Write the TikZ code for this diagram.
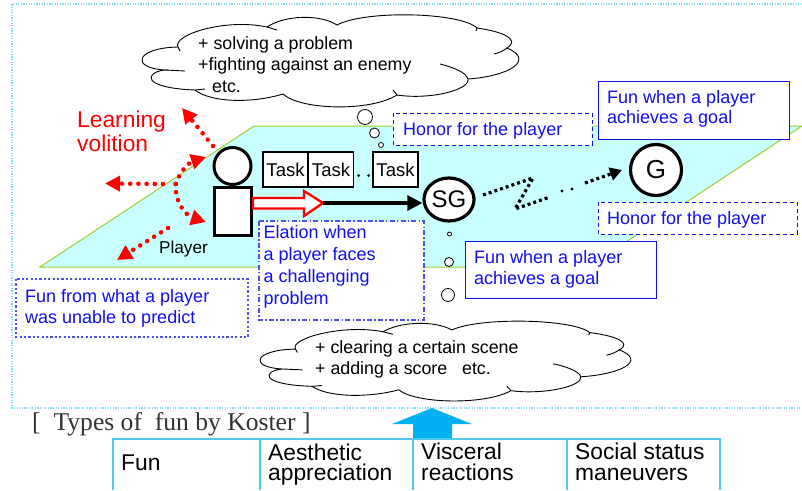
\documentclass[tikz,border=0pt]{standalone}
\usepackage{fontspec}
\setmainfont{Liberation Sans}
\newfontfamily\typesfont{Liberation Serif}
\usetikzlibrary{arrows.meta,shapes.geometric}
\definecolor{planefill}{HTML}{C8FFFF}
\definecolor{planeline}{HTML}{A0D030}
\definecolor{framecol}{HTML}{80DCF0}
\definecolor{boxblue}{HTML}{1010F0}
\definecolor{dashblue}{HTML}{5050F0}
\definecolor{tablecol}{HTML}{50C8F0}
\definecolor{bigarrow}{HTML}{00B0F0}
\newcommand{\fs}[1]{\fontsize{#1}{#1}\selectfont}
\newcommand{\cloudoutline}{%
  \draw[fill=white,line width=.9pt] (178,47)
    .. controls (172,35) and (225,18) .. (267,27)
    .. controls (285,15) and (320,14) .. (337,25)
    .. controls (365,10) and (460,12) .. (477,28)
    .. controls (505,32) and (520,40) .. (507,48)
    .. controls (535,60) and (510,76) .. (468,79)
    .. controls (470,90) and (430,100) .. (397,95)
    .. controls (370,112) and (300,110) .. (283,94)
    .. controls (250,104) and (210,102) .. (195,90)
    .. controls (140,88) and (145,72) .. (165,70)
    .. controls (130,68) and (135,48) .. (178,47) -- cycle;
  \draw[line width=.9pt] (267,27) -- (277,30);
  \draw[line width=.9pt] (507,48) .. controls (503,51) and (499,53) .. (494,54);
  \draw[line width=.9pt] (468,79) .. controls (466,72) and (452,67) .. (440,64);
  \draw[line width=.9pt] (397,95) -- (393,90);
  \draw[line width=.9pt] (195,90) -- (205,89);
  \draw[line width=.9pt] (165,70) -- (185,71);
  \draw[line width=.9pt] (178,47) -- (180,51);
  \draw[line width=.9pt] (477,28) -- (476,31);
}
\tikzset{
  x=1pt,y=-1pt,
  bluelabel/.style={font=\fs{18},text=boxblue,anchor=base west,inner sep=0pt},
  solidbox/.style={draw=boxblue,line width=1pt,fill=white},
  dashbox/.style={draw=boxblue,line width=1pt,fill=white,dash pattern=on 4pt off 3pt},
  dotbox/.style={draw=dashblue,line width=1.2pt,fill=white,dash pattern=on 2.2pt off 2.2pt},
  dashdotbox/.style={draw=dashblue,line width=1.2pt,fill=white,dash pattern=on 5pt off 2.2pt on 1.5pt off 2.2pt},
  taskbox/.style={draw=black,line width=1.1pt,fill=white,font=\fs{18.5},inner sep=0pt,minimum height=35pt},
  thought/.style={circle,draw=black,line width=.8pt,fill=white,inner sep=0pt},
  cloudtext/.style={font=\fs{17.8},anchor=base west,inner sep=0pt},
  reddots/.style={draw=red,line width=4.6pt,line cap=round,dash pattern=on 0pt off 8.2pt,
     -{Triangle[length=15pt,width=15pt,fill=red,line cap=butt]}},
  blackdots/.style={draw=black,line width=3.2pt,dash pattern=on 3pt off 3pt},
  tablecell/.style={draw=tablecol,line width=1.3pt},
  tabletext/.style={font=\fontsize{22.8}{20.5}\selectfont,anchor=west,inner sep=0pt,align=left},
}
\begin{document}
\begin{tikzpicture}
\useasboundingbox (0,0) rectangle (802,490);
% frame
\draw[framecol,line width=1.3pt,dash pattern=on 1.3pt off 1.3pt] (802,4) -- (12,4) -- (12,408) -- (802,408);
% plane
\draw[fill=planefill,draw=planeline,line width=1pt] (254,126) -- (802,126) -- (588,267) -- (40,267) -- cycle;
% big arrow
\fill[bigarrow] (413,439) -- (413,424) -- (392,424) -- (432,408) -- (472,424) -- (452,424) -- (452,439) -- cycle;
% clouds
\cloudoutline
\begin{scope}[shift={(120.3,308.3)},xscale=.984,yscale=.867]
\cloudoutline
\end{scope}
\node[cloudtext] (c1a) at (198,49.5) {+ solving a problem};
\node[cloudtext] (c1b) at (198,70) {+fighting against an enemy};
\node[cloudtext] (c1c) at (212,92.7) {etc.};
\node[cloudtext] (c2a) at (315,353.3) {+ clearing a certain scene};
\node[cloudtext] (c2b) at (315,374) {+ adding a score\ \ \ etc.};
% thought bubbles
\node[thought,minimum size=15pt] (t1) at (365,117) {};
\node[thought,minimum size=10pt] (t2) at (374.5,133) {};
\node[thought,minimum size=5pt] (t3) at (381,145) {};
\node[thought,minimum size=4pt] (t4) at (449.5,234) {};
\node[thought,minimum size=9pt] (t5) at (449,262) {};
\node[thought,minimum size=13pt] (t6) at (448,295) {};
% label boxes
\draw[dashbox] (393,113) rectangle (592,145);
\node[bluelabel] (h1) at (403,135) {Honor for the player};
\draw[solidbox] (598,81) rectangle (789,139);
\node[bluelabel] (f1a) at (607,103) {Fun when a player};
\node[bluelabel] (f1b) at (607,123.5) {achieves a goal};
\draw[dashbox] (598,202) rectangle (797,234);
\node[bluelabel] (h2) at (607,224) {Honor for the player};
\draw[dashdotbox] (259,221) rectangle (424,320);
\node[bluelabel] (e1) at (263.5,238.5) {Elation when};
\node[bluelabel] (e2) at (263.5,260.7) {a player faces};
\node[bluelabel] (e3) at (263.5,282.7) {a challenging};
\node[bluelabel] (e4) at (263.5,304.3) {problem};
\draw[solidbox] (465,241) rectangle (656,298);
\node[bluelabel] (f2a) at (474,263) {Fun when a player};
\node[bluelabel] (f2b) at (474,284) {achieves a goal};
\draw[dotbox] (16,279) rectangle (248,337);
\node[bluelabel] (f3a) at (25,302) {Fun from what a player};
\node[bluelabel] (f3b) at (25,323) {was unable to predict};
% tasks
\node[taskbox,minimum width=45pt] (task1) at (285.5,169.5) {Task};
\node[taskbox,minimum width=45pt] (task2) at (331,169.5) {Task};
\node[taskbox,minimum width=45pt] (task3) at (395.5,169.5) {Task};
\fill (358.5,175.5) circle (1.5pt) (368.5,175.5) circle (1.5pt);
% player
\node[circle,draw=black,line width=3pt,fill=white,minimum size=37pt,inner sep=0pt] (head) at (232.5,166) {};
\node[draw=black,line width=3pt,fill=white,minimum width=37pt,minimum height=48pt,inner sep=0pt] (body) at (233,211) {};
\node[font=\fs{17.2},inner sep=0pt,anchor=base] (player) at (183.5,253) {Player};
% goal nodes
\node[circle,draw=black,line width=3.2pt,fill=white,minimum size=51pt,inner sep=0pt,font=\fs{26}] (G) at (656,170) {G};
\node[ellipse,draw=black,line width=3.2pt,fill=white,minimum width=50pt,minimum height=43pt,inner sep=0pt,font=\fs{24}] (SG) at (449,199.5) {SG};
% block arrow
\coordinate (tip) at (323,203);
\draw[draw=red,fill=white,line width=2.4pt,line join=miter] (body.east |- 0,198) -- (304,198) -- (304,191) -- (tip) -- (304,216) -- (304,208.5) -- (body.east |- 0,208.5) -- cycle;
% main arrow
\draw[line width=3.2pt,-{Triangle[length=15pt,width=15pt]}] (tip) -- (SG.west |- tip);
% dotted path
\coordinate (z1) at (483,195);
\coordinate (z2) at (533,178);
\coordinate (z3) at (515,209);
\coordinate (z4) at (550,197);
\coordinate (z5) at (562,191);
\coordinate (z6) at (572,189);
\coordinate (z7) at (585,183);
\draw[blackdots] (z1) -- (z2) -- (z3) -- (z4);
\fill (z5) circle (1.6pt) (z6) circle (1.6pt);
\draw[blackdots,-{Triangle[length=12pt,width=13pt,fill=black]}] (z7) -- (622,170);
% red arrows
\coordinate (ra) at (213,146);
\coordinate (rb) at (182,108);
\draw[reddots] (ra) -- (rb);
\coordinate (rc) at (176,184);
\coordinate (rd) at (206,157);
\draw[reddots] (rc) .. controls (179,173) and (188,163) .. (rd);
\coordinate (re) at (163,184);
\coordinate (rf) at (105,183.5);
\draw[reddots] (re) -- (rf);
\coordinate (rg) at (175.5,184);
\coordinate (rh) at (206,222);
\draw[reddots] (rg) .. controls (175,204) and (187,216) .. (rh);
\coordinate (ri) at (168,228);
\coordinate (rj) at (117,260);
\draw[reddots] (ri) -- (rj);
% red label
\node[font=\fs{22.8},text=red,anchor=base west,inner sep=0pt] (lv1) at (77,127.7) {Learning};
\node[font=\fs{22.8},text=red,anchor=base west,inner sep=0pt] (lv2) at (77,151.7) {volition};
% koster
\node[font={\typesfont\fs{25.6}},text=black!80,anchor=base west,inner sep=0pt] (types) at (32,430) {[\ \ Types of\ \ fun by Koster ]};
% table
\draw[tablecell] (113,490) -- (113,439) -- (720,439) -- (720,490);
\draw[tablecell] (260,439) -- (260,490);
\draw[tablecell] (413,439) -- (413,490);
\draw[tablecell] (567,439) -- (567,490);
\node[tabletext] (k1) at (121,463) {Fun};
\node[tabletext] (k2) at (268,464.4) {Aesthetic\\appreciation};
\node[tabletext] (k3) at (421,462) {Visceral\\reactions};
\node[tabletext] (k4) at (575,462) {Social status\\maneuvers};
\end{tikzpicture}
\end{document}
